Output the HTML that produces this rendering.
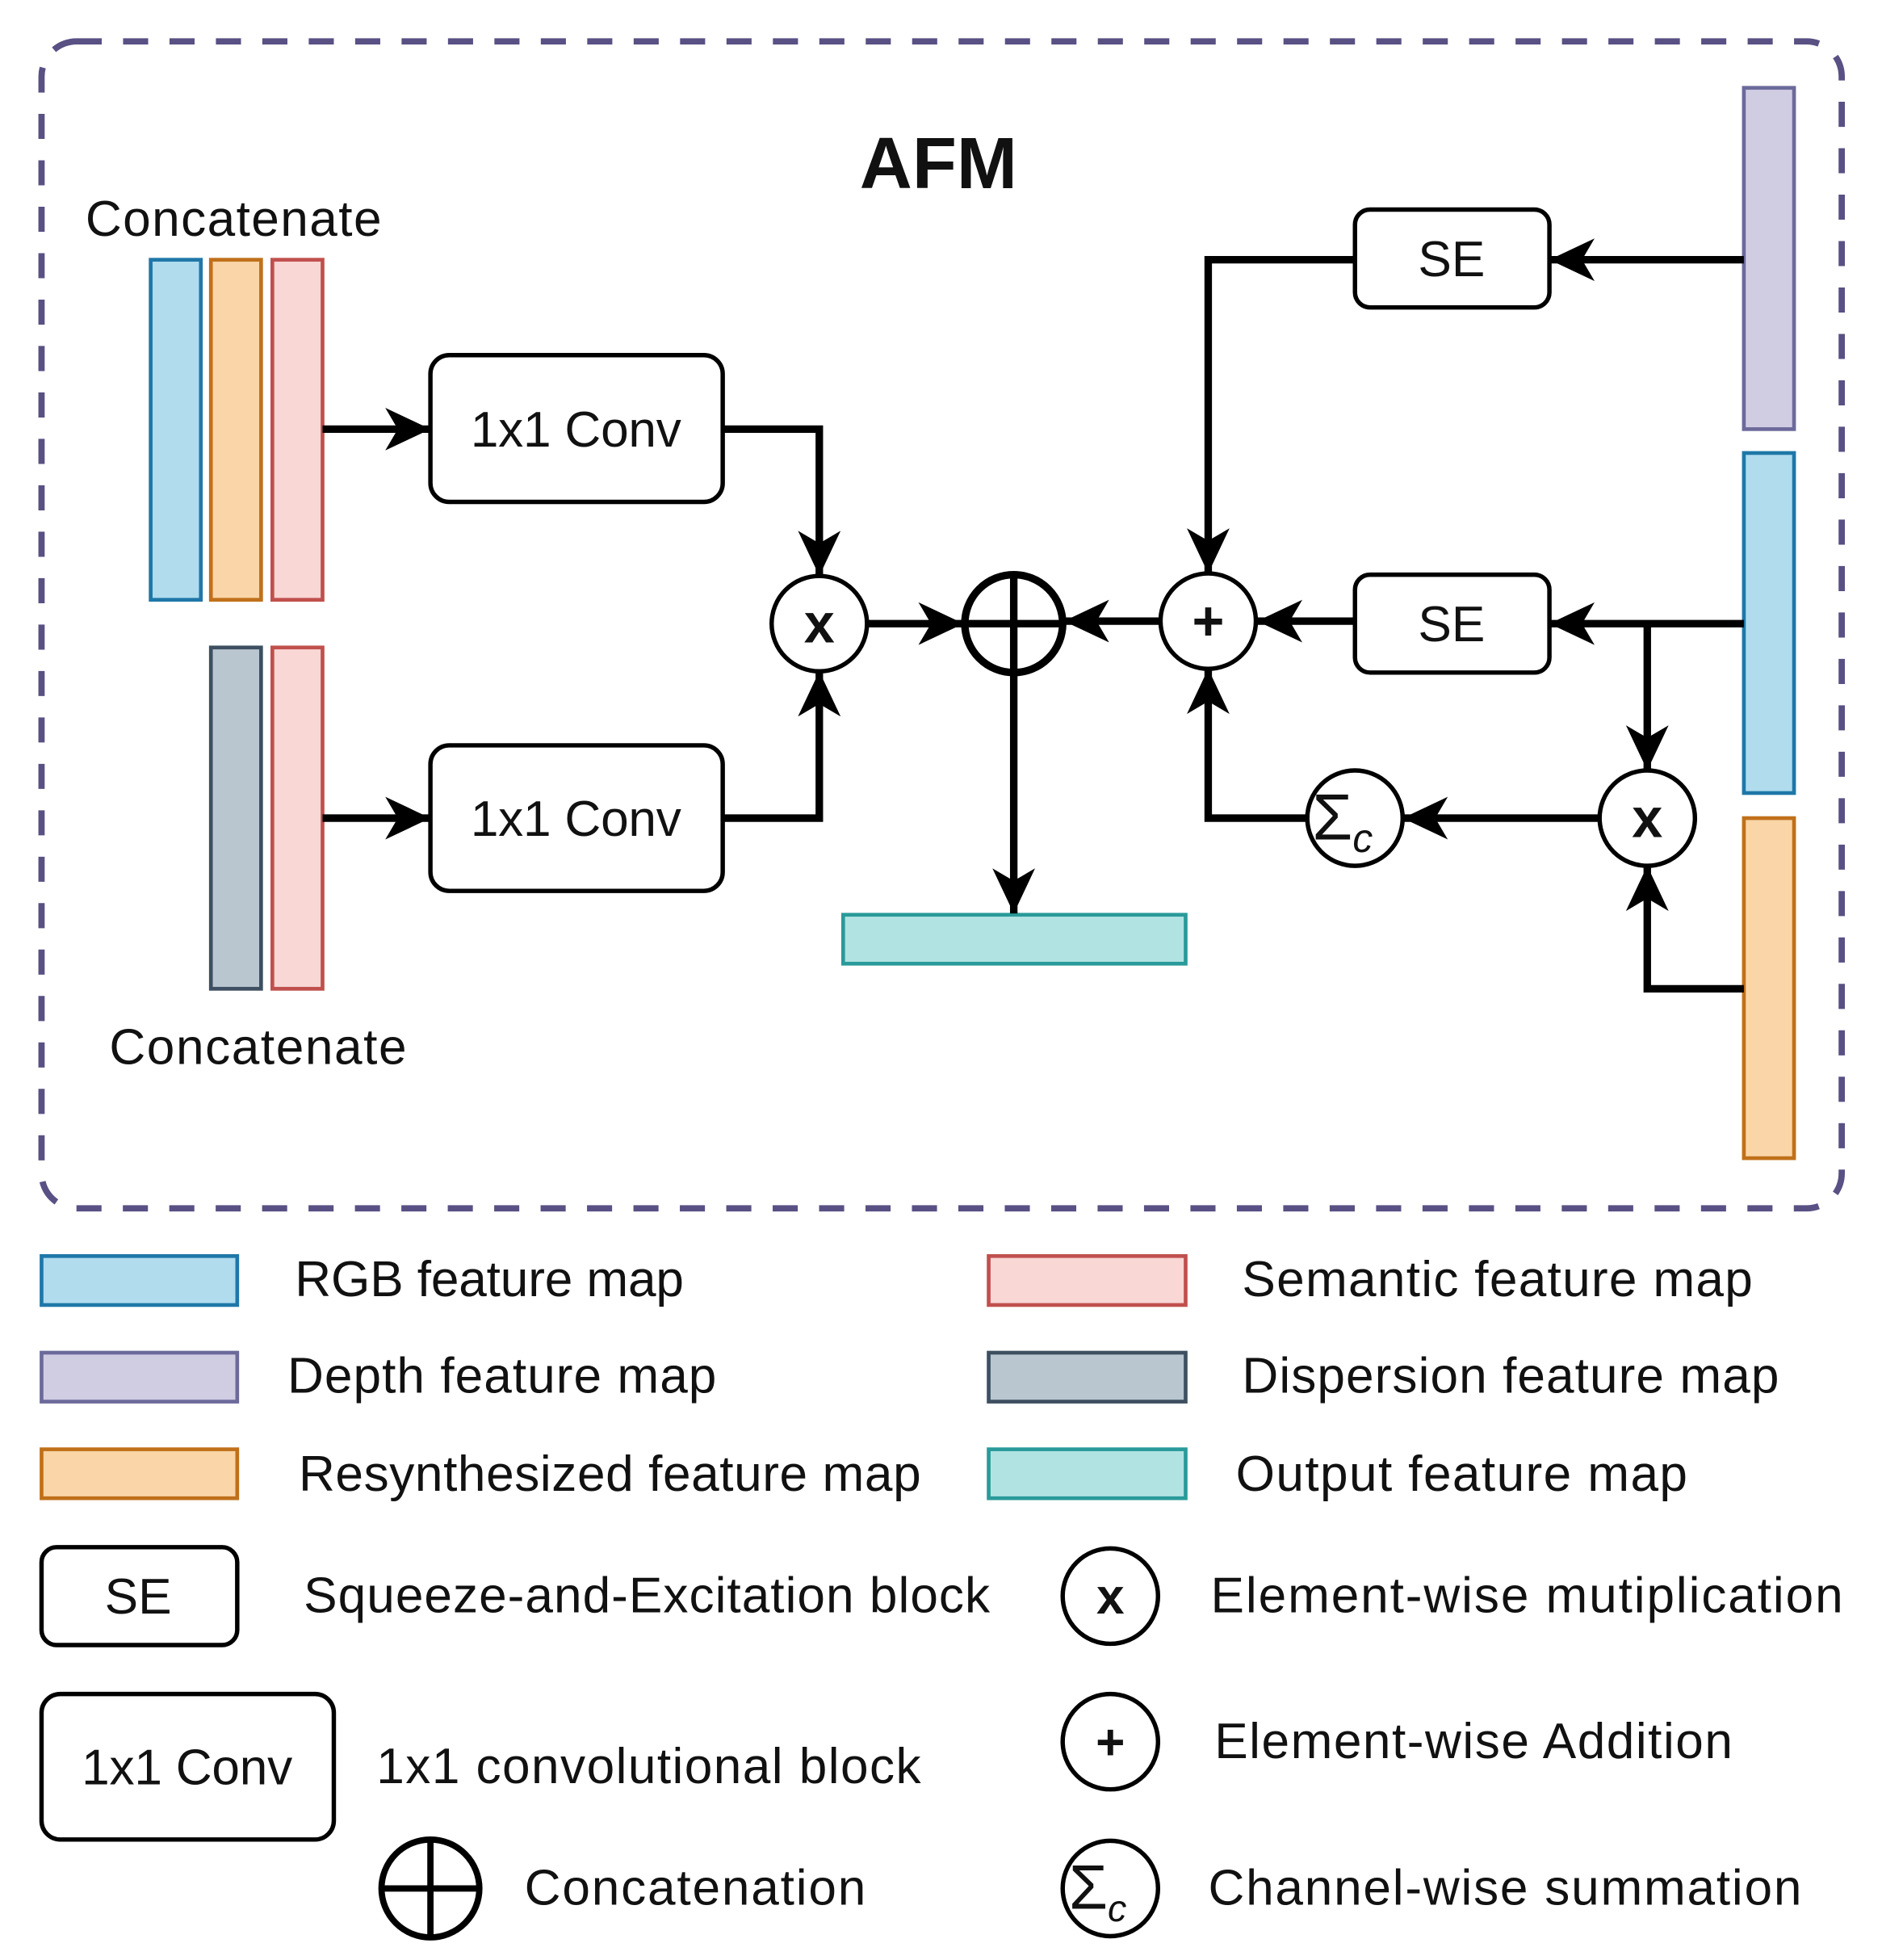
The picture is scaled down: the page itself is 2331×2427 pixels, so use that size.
<!DOCTYPE html>
<html><head><meta charset="utf-8"><style>
html,body{margin:0;padding:0;background:#fff;}
svg{display:block;}
text{font-family:"Liberation Sans",sans-serif;fill:#111;}
</style></head><body>
<svg width="2331" height="2427" viewBox="0 0 1500 1562" xmlns="http://www.w3.org/2000/svg">
<defs>
<marker id="a" markerUnits="userSpaceOnUse" markerWidth="40" markerHeight="40" refX="36" refY="17" orient="auto">
<path d="M0,0 L36,17 L0,34 L10,17 Z" fill="#000"/>
</marker>
</defs>
<rect x="33" y="33" width="1435" height="930" rx="28" fill="none" stroke="#595084" stroke-width="5" stroke-dasharray="20 17"/>
<text x="748" y="150" font-size="58" font-weight="bold" text-anchor="middle">AFM</text>
<text x="68" y="188" font-size="40" textLength="236">Concatenate</text>
<text x="87" y="848" font-size="40" textLength="237">Concatenate</text>
<g stroke-width="3">
<rect x="120" y="207" width="40" height="271" fill="#b0dcee" stroke="#1f77a8"/>
<rect x="168" y="207" width="40" height="271" fill="#f9d5a7" stroke="#c0701a"/>
<rect x="217" y="207" width="40" height="271" fill="#f8d7d5" stroke="#c0504d"/>
<rect x="168" y="516" width="40" height="272" fill="#b9c6d0" stroke="#3d4f60"/>
<rect x="217" y="516" width="40" height="272" fill="#f8d7d5" stroke="#c0504d"/>
<rect x="1390" y="70" width="40" height="272" fill="#d0cde3" stroke="#6c6a9a"/>
<rect x="1390" y="361" width="40" height="271" fill="#b0dcee" stroke="#1f77a8"/>
<rect x="1390" y="652" width="40" height="271" fill="#f9d5a7" stroke="#c0701a"/>
<rect x="672" y="729" width="273" height="39" fill="#b2e3e3" stroke="#2a9a9a"/>
</g>
<g fill="#fff" stroke="#000" stroke-width="3.5">
<rect x="343" y="283" width="233" height="117" rx="15"/>
<rect x="343" y="594" width="233" height="116" rx="15"/>
<rect x="1080" y="167" width="155" height="78" rx="12"/>
<rect x="1080" y="458" width="155" height="78" rx="12"/>
</g>
<g font-size="40" text-anchor="middle">
<text x="459" y="356" textLength="168">1x1 Conv</text>
<text x="459" y="666" textLength="168">1x1 Conv</text>
<text x="1157" y="220">SE</text>
<text x="1157" y="511">SE</text>
</g>
<g fill="none" stroke="#000" stroke-width="6" marker-end="url(#a)">
<path d="M257,342 H343"/>
<path d="M257,652 H343"/>
<path d="M576,342 H653 V459"/>
<path d="M576,652 H653 V535"/>
<path d="M691,497 H768"/>
<path d="M808,537 V728"/>
<path d="M925,495 H848"/>
<path d="M1390,207 H1235"/>
<path d="M1080,207 H963 V457"/>
<path d="M1390,497 H1235"/>
<path d="M1080,495 H1002"/>
<path d="M1313,497 V614"/>
<path d="M1390,788 H1313 V690"/>
<path d="M1275,652 H1118"/>
<path d="M1042,652 H963 V533"/>
</g>
<g fill="#fff" stroke="#000" stroke-width="3.5">
<circle cx="653" cy="497" r="38"/>
<circle cx="963" cy="495" r="38"/>
<circle cx="1313" cy="652" r="38"/>
<circle cx="1080" cy="652" r="38"/>
</g>
<circle cx="808" cy="497" r="39" fill="#fff" stroke="#000" stroke-width="6"/>
<path d="M769,497 H847 M808,458 V536" stroke="#000" stroke-width="6"/>
<g font-size="44" font-weight="bold" text-anchor="middle">
<text x="653" y="512">x</text>
<text x="1313" y="667">x</text>
<text x="963" y="510">+</text>
</g>
<text x="1046" y="669" font-family="Liberation Serif,serif" font-size="52">Σ<tspan font-size="32" font-style="italic" dy="10">c</tspan></text>

<!-- legend -->
<g stroke-width="3">
<rect x="33" y="1001" width="156" height="39" fill="#b0dcee" stroke="#1f77a8"/>
<rect x="33" y="1078" width="156" height="39" fill="#d0cde3" stroke="#6c6a9a"/>
<rect x="33" y="1155" width="156" height="39" fill="#f9d5a7" stroke="#c0701a"/>
<rect x="788" y="1001" width="157" height="39" fill="#f8d7d5" stroke="#c0504d"/>
<rect x="788" y="1078" width="157" height="39" fill="#b9c6d0" stroke="#3d4f60"/>
<rect x="788" y="1155" width="157" height="39" fill="#b2e3e3" stroke="#2a9a9a"/>
</g>
<g font-size="40">
<text x="235" y="1033" textLength="310">RGB feature map</text>
<text x="229" y="1110" textLength="342">Depth feature map</text>
<text x="238" y="1188" textLength="496">Resynthesized feature map</text>
<text x="990" y="1033" textLength="407">Semantic feature map</text>
<text x="990" y="1110" textLength="428">Dispersion feature map</text>
<text x="985" y="1188" textLength="360">Output feature map</text>
<text x="242" y="1285" textLength="547">Squeeze-and-Excitation block</text>
<text x="300" y="1421" textLength="434">1x1 convolutional block</text>
<text x="418" y="1518" textLength="272">Concatenation</text>
<text x="965" y="1285" textLength="504">Element-wise mutiplication</text>
<text x="968" y="1401" textLength="413">Element-wise Addition</text>
<text x="963" y="1518" textLength="473">Channel-wise summation</text>
</g>
<g fill="#fff" stroke="#000" stroke-width="3.5">
<rect x="33" y="1233" width="156" height="78" rx="12"/>
<rect x="33" y="1350" width="233" height="116" rx="15"/>
<circle cx="885" cy="1272" r="38"/>
<circle cx="885" cy="1388" r="38"/>
<circle cx="885" cy="1505" r="38"/>
</g>
<circle cx="343" cy="1505" r="39" fill="#fff" stroke="#000" stroke-width="5"/>
<path d="M304,1505 H382 M343,1466 V1544" stroke="#000" stroke-width="5"/>
<g font-size="40" text-anchor="middle">
<text x="110" y="1286">SE</text>
<text x="149" y="1422" textLength="168">1x1 Conv</text>
</g>
<g font-size="40" font-weight="bold" text-anchor="middle">
<text x="885" y="1286">x</text>
<text x="885" y="1402">+</text>
</g>
<text x="852" y="1521" font-family="Liberation Serif,serif" font-size="50">Σ<tspan font-size="30" font-style="italic" dy="10">c</tspan></text>
</svg>
</body></html>
